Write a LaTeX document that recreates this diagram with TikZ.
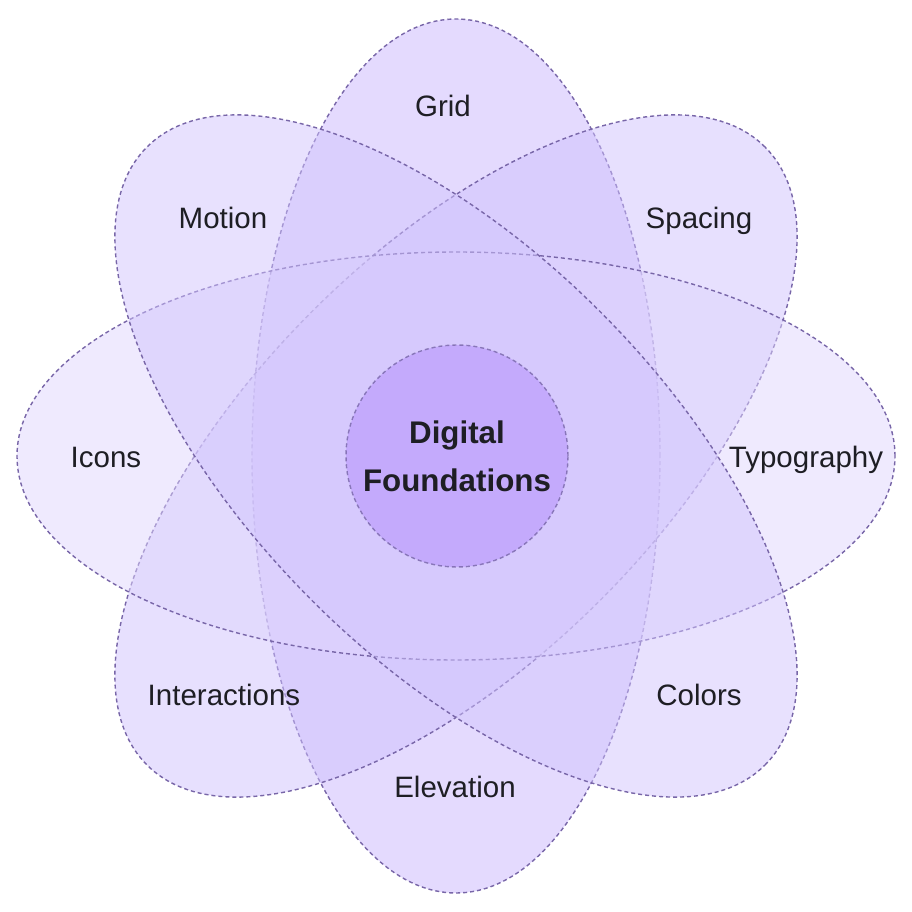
\documentclass[tikz,border=0pt]{standalone}
\usepackage{fontspec}
\setmainfont{Liberation Sans}
\definecolor{vfill}{RGB}{201,181,253}
\definecolor{sfill}{RGB}{207,193,253}
\definecolor{hfill}{RGB}{223,213,253}
\definecolor{mfill}{RGB}{209,196,253}
\definecolor{cfill}{RGB}{196,170,252}
\definecolor{edgec}{RGB}{120,102,168}
\definecolor{txt}{RGB}{30,30,36}
\begin{document}
\begin{tikzpicture}[x=1pt,y=1pt,
  petal/.style={fill opacity=0.5, draw=edgec, line width=1.4pt, dash pattern=on 4pt off 3pt},
  lab/.style={anchor=base, text=txt, inner sep=0pt, font=\fontsize{29.5}{35}\selectfont},
  ctr/.style={anchor=base, text=txt, inner sep=0pt, font=\fontsize{31.3}{36}\selectfont\bfseries}]
\useasboundingbox (-456,-456) rectangle (455,456);
% petals
\path[petal, fill=vfill] (0,0) ellipse [x radius=204, y radius=437];
\path[petal, fill=sfill, rotate=45] (0,0) ellipse [x radius=437, y radius=204];
\path[petal, fill=hfill] (0,0) ellipse [x radius=439, y radius=204];
\path[petal, fill=mfill, rotate=-45] (0,0) ellipse [x radius=437, y radius=204];
% center
\node[circle, minimum size=222pt, inner sep=0pt, fill=cfill, draw=edgec, draw opacity=0.8,
      line width=1.4pt, dash pattern=on 4pt off 3pt] (core) at (1,0) {};
\node[ctr] (digital) at (1,12.7) {Digital};
\node[ctr] (found) at (1,-35.7) {Foundations};
% labels
\node[lab] (grid) at (-13,339.5) {Grid};
\node[lab] (motion) at (-233,227) {Motion};
\node[lab] (spacing) at (243,227) {Spacing};
\node[lab] (icons) at (-350,-12) {Icons};
\node[lab] (typo) at (350,-12) {Typography};
\node[lab] (inter) at (-232,-249) {Interactions};
\node[lab] (colors) at (243,-249) {Colors};
\node[lab] (elev) at (-1,-341) {Elevation};
\end{tikzpicture}
\end{document}
